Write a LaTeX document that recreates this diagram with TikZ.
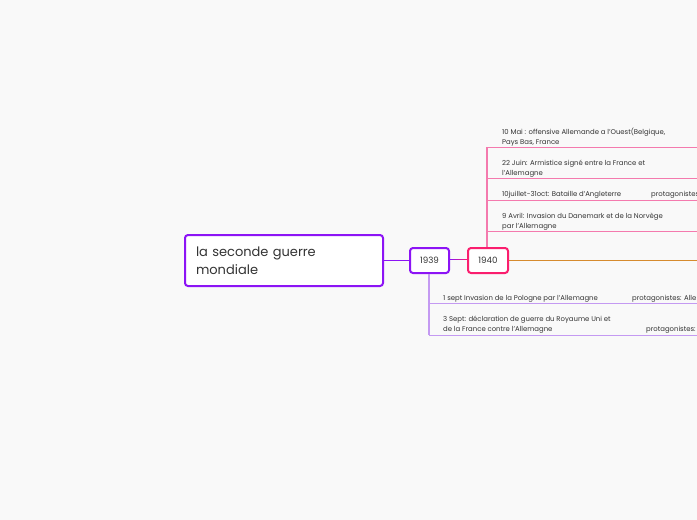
\documentclass[tikz,border=0pt]{standalone}
\usepackage{fontspec}
\setmainfont{Poppins}
\definecolor{bgc}{HTML}{F9F9F9}
\definecolor{purp}{HTML}{8C14F5}
\definecolor{lpurp}{HTML}{C49AF2}
\definecolor{redp}{HTML}{FA1E6E}
\definecolor{pinkl}{HTML}{F47AAE}
\definecolor{orng}{HTML}{D68B2E}
\definecolor{txt}{HTML}{333333}
\begin{document}
\begin{tikzpicture}[x=1pt,y=-1pt]
\tikzset{
  mainbox/.style={draw=purp, line width=2pt, rounded corners=3pt, fill=white, minimum width=198pt, minimum height=51pt, text width=176pt, align=left, inner xsep=10pt, font=\fontsize{13}{18}\selectfont, text=txt},
  yearbox/.style={line width=2pt, rounded corners=3pt, fill=white, minimum height=25pt, font=\fontsize{8.7}{10}\selectfont, text=txt, inner sep=0pt},
  item/.style={anchor=base west, align=left, inner sep=0pt, font=\fontsize{6.9}{10}\selectfont, text=txt},
  uline/.style={line width=0.7pt},
}
\fill[bgc] (0,0) rectangle (697,520);
\useasboundingbox (0,0) rectangle (697,520);
\begin{scope}
\clip (0,0) rectangle (697,520);
% nodes
\node[mainbox] (main) at (284,260.5) {la seconde guerre\\mondiale};
\node[yearbox, draw=purp, minimum width=39pt] (y39) at (429.5,260.5) {1939};
\node[yearbox, draw=redp, minimum width=40pt] (y40) at (488,260.5) {1940};
% coordinates
\coordinate (oend) at (697,260.5);
\coordinate (v40top) at (487,147);
\coordinate (a1) at (487,147); \coordinate (b1) at (697,147);
\coordinate (a2) at (487,178); \coordinate (b2) at (697,178);
\coordinate (a3) at (487,200); \coordinate (b3) at (697,200);
\coordinate (a4) at (487,231); \coordinate (b4) at (697,231);
\coordinate (v39bot) at (429,335);
\coordinate (c1) at (429,303); \coordinate (d1) at (697,303);
\coordinate (c2) at (429,335); \coordinate (d2) at (697,335);
% connectors
\draw[purp, line width=1.5pt] (main.east) -- (y39.west);
\shade[left color=purp, right color=redp] (y39.east) ++(0,-0.75) rectangle ([yshift=0.75pt]y40.west);
\draw[orng, line width=1.5pt] (y40.east) -- (oend);
\draw[pinkl, line width=1.3pt] (y40.north -| v40top) -- (v40top);
\foreach \i in {1,2,3,4} \draw[uline, pinkl] (a\i) -- (b\i);
\draw[lpurp, line width=1.3pt] (y39.south -| v39bot) -- (v39bot);
\foreach \i in {1,2} \draw[uline, lpurp] (c\i) -- (d\i);
% texts 1940
\node[item] (t1) at (502,144) {10 Mai : offensive Allemande a l'Ouest(Belgique,\\Pays Bas, France};
\node[item] (t2) at (502,175) {22 Juin: Armistice signé entre la France et\\l'Allemagne};
\node[item] (t3) at (502,196) {10juillet-31oct: Bataille d'Angleterre};
\node[item] (t3p) at (651,196) {protagonistes};
\node[item] (t4) at (502,228) {9 Avril: Invasion du Danemark et de la Norvège\\par l'Allemagne};
% texts 1939
\node[item] (s1) at (443,300) {1 sept Invasion de la Pologne par l'Allemagne};
\node[item] (s1p) at (632,300) {protagonistes: Alle};
\node[item] (s2) at (443,331) {3 Sept: déclaration de guerre du Royaume Uni et\\de la France contre l'Allemagne};
\node[item] (s2p) at (646,331) {protagonistes:};
\end{scope}
\end{tikzpicture}
\end{document}
